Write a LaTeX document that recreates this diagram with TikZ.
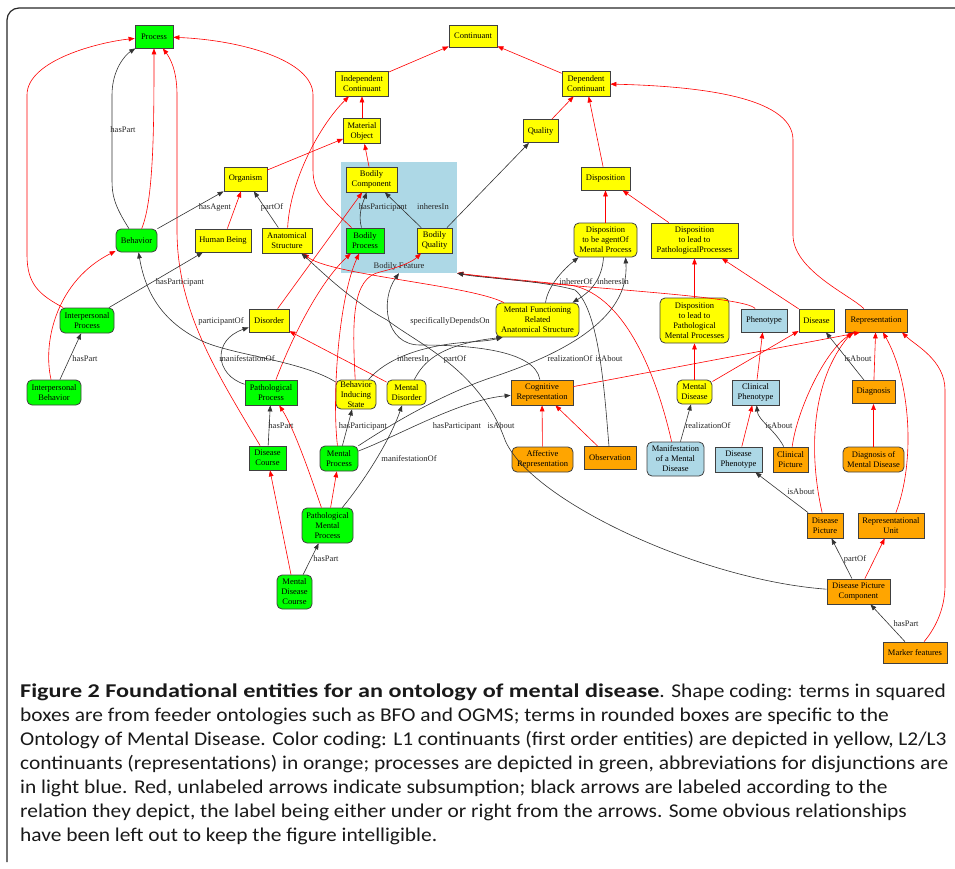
\documentclass[tikz,border=0pt]{standalone}
\usepackage{fontspec}
\setmainfont{Liberation Serif}
\newfontfamily\capfont[FakeStretch=1.098]{Carlito}
\newfontfamily\capboldfam[FakeStretch=1.24]{Carlito}
\usetikzlibrary{arrows.meta}
\definecolor{gvgreen}{RGB}{0,255,0}
\definecolor{gvorange}{RGB}{255,165,0}
\definecolor{gvblue}{RGB}{173,216,230}
\definecolor{gvyellow}{RGB}{255,255,0}
\begin{document}
\begin{tikzpicture}[x=1pt,y=-1pt,
  box/.style={draw=black!75, line width=0.8pt, inner sep=1pt, align=center, font=\fontsize{8.5}{10}\selectfont},
  sq/.style={box},
  rd/.style={box, rounded corners=5pt},
  G/.style={fill=gvgreen}, Y/.style={fill=gvyellow}, O/.style={fill=gvorange}, B/.style={fill=gvblue},
  redge/.style={draw=red, line width=0.6pt, -{Triangle[length=6pt,width=4.6pt]}},
  bedge/.style={draw=black!80, line width=0.6pt, -{Triangle[length=6pt,width=4.6pt]}},
  lbl/.style={font=\fontsize{8.5}{10}\selectfont, inner sep=0, text=black!85},
  capline/.style={anchor=west, inner sep=0, font=\capfont\fontsize{19.5}{22}\selectfont, text=black!90}
]
\useasboundingbox (0,0) rectangle (955,868);
\draw[line width=1.2pt, black!85, rounded corners=12pt] (7,862) -- (7,8) -- (955,8);

% cluster
\node[fill=gvblue, minimum width=116pt, minimum height=111pt, inner sep=0] (bf) at (399,217.5) {};
\node[lbl] (bflbl) at (399,266) {Bodily Feature};

% nodes
\node[sq,G,minimum width=38pt,minimum height=23pt] (proc) at (154,36.5) {Process};
\node[sq,Y,minimum width=48pt,minimum height=22pt] (cont) at (473,36) {Continuant};
\node[sq,Y,minimum width=53pt,minimum height=25pt] (indc) at (362,83.5) {Independent\\Continuant};
\node[sq,Y,minimum width=48pt,minimum height=25pt] (depc) at (586,83.5) {Dependent\\Continuant};
\node[sq,Y,minimum width=37pt,minimum height=25pt] (mato) at (362,131) {Material\\Object};
\node[sq,Y,minimum width=35pt,minimum height=23pt] (qual) at (540.5,131) {Quality};
\node[sq,Y,minimum width=43pt,minimum height=24pt] (org) at (245.5,179) {Organism};
\node[sq,Y,minimum width=51pt,minimum height=25pt] (bcomp) at (371.5,179.5) {Bodily\\Component};
\node[sq,Y,minimum width=49pt,minimum height=23pt] (disp) at (605.5,178.5) {Disposition};
\node[rd,G,minimum width=41pt,minimum height=23pt] (behav) at (136.5,240.5) {Behavior};
\node[sq,Y,minimum width=56pt,minimum height=23pt] (human) at (223,240.5) {Human Being};
\node[sq,Y,minimum width=50pt,minimum height=25pt] (anat) at (287,240.5) {Anatomical\\Structure};
\node[sq,G,minimum width=38pt,minimum height=25pt] (bproc) at (365,240.5) {Bodily\\Process};
\node[sq,Y,minimum width=35pt,minimum height=25pt] (bqual) at (434.5,240.5) {Bodily\\Quality};
\node[rd,Y,minimum width=63pt,minimum height=34pt] (dtba) at (605.5,240) {Disposition\\to be agentOf\\Mental Process};
\node[sq,Y,minimum width=87pt,minimum height=35pt] (dtlpp) at (694.5,240.5) {Disposition\\to lead to\\PathologicalProcesses};
\node[rd,G,minimum width=54pt,minimum height=25pt] (ip) at (87,320.5) {Interpersonal\\Process};
\node[sq,Y,minimum width=40pt,minimum height=23pt] (disord) at (269,320.5) {Disorder};
\node[rd,Y,minimum width=83pt,minimum height=34pt] (mfras) at (537.5,320) {Mental Functioning\\Related\\Anatomical Structure};
\node[rd,Y,minimum width=69pt,minimum height=45pt] (dtlpmp) at (694.5,320.5) {Disposition\\to lead to\\Pathological\\Mental Processes};
\node[sq,B,minimum width=46pt,minimum height=23pt] (phen) at (764,320.5) {Phenotype};
\node[sq,Y,minimum width=35pt,minimum height=23pt] (disease) at (816.5,320.5) {Disease};
\node[sq,O,minimum width=62pt,minimum height=23pt] (repr) at (876,320.5) {Representation};
\node[rd,G,minimum width=54pt,minimum height=25pt] (ib) at (54,392.5) {Interpersonal\\Behavior};
\node[sq,G,minimum width=52pt,minimum height=25pt] (pp) at (271,392.5) {Pathological\\Process};
\node[rd,Y,minimum width=40pt,minimum height=29pt] (bis) at (356,394.5) {Behavior\\Inducing\\State};
\node[rd,Y,minimum width=39pt,minimum height=25pt] (mdisord) at (406.5,392.5) {Mental\\Disorder};
\node[sq,O,minimum width=62pt,minimum height=25pt] (cogr) at (542,392.5) {Cognitive\\Representation};
\node[rd,Y,minimum width=35pt,minimum height=24pt] (mdisease) at (694.5,392) {Mental\\Disease};
\node[sq,B,minimum width=47pt,minimum height=25pt] (cphen) at (755.5,392.5) {Clinical\\Phenotype};
\node[sq,O,minimum width=43pt,minimum height=23pt] (diag) at (873.5,392) {Diagnosis};
\node[sq,G,minimum width=37pt,minimum height=24pt] (dcourse) at (267.5,458) {Disease\\Course};
\node[rd,G,minimum width=38pt,minimum height=25pt] (mproc) at (339,458.5) {Mental\\Process};
\node[rd,O,minimum width=61pt,minimum height=25pt] (affr) at (542.5,459.5) {Affective\\Representation};
\node[sq,O,minimum width=52pt,minimum height=23pt] (obs) at (610,458) {Observation};
\node[rd,B,minimum width=57pt,minimum height=34pt] (mmd) at (675.5,459) {Manifestation\\of a Mental\\Disease};
\node[sq,B,minimum width=47pt,minimum height=25pt] (dphen) at (738.5,459.5) {Disease\\Phenotype};
\node[sq,O,minimum width=35pt,minimum height=25pt] (cpic) at (790.5,459.5) {Clinical\\Picture};
\node[rd,O,minimum width=61pt,minimum height=25pt] (dmd) at (873.5,459.5) {Diagnosis of\\Mental Disease};
\node[rd,G,minimum width=51pt,minimum height=35pt] (pmp) at (327.5,525.5) {Pathological\\Mental\\Process};
\node[sq,O,minimum width=36pt,minimum height=25pt] (dpic) at (825,525.5) {Disease\\Picture};
\node[sq,O,minimum width=66pt,minimum height=25pt] (runit) at (891,525.5) {Representational\\Unit};
\node[rd,G,minimum width=35pt,minimum height=34pt] (mdc) at (294.5,592) {Mental\\Disease\\Course};
\node[sq,O,minimum width=63pt,minimum height=25pt] (dpc) at (858.5,591.5) {Disease Picture\\Component};
\node[sq,O,minimum width=64pt,minimum height=21pt] (marker) at (915,652.5) {Marker features};

% red subsumption edges
\draw[redge] (behav) .. controls (154,200) and (154,120) .. (proc);
\draw[redge] (ip) .. controls (40,295) and (27,285) .. (27,255) -- (27,95) .. controls (27,60) and (100,42) .. (proc);
\draw[redge] (ib) .. controls (42,340) and (58,280) .. (behav);
\draw[redge] (dcourse) .. controls (215,370) and (177,310) .. (177,230) -- (177,95) .. controls (177,70) and (170,58) .. (proc);
\draw[redge] (bproc) .. controls (328,205) and (313,195) .. (313,170) -- (313,95) .. controls (313,60) and (240,40) .. (proc);
\draw[redge] (human) -- (org);
\draw[redge] (anat) .. controls (290,180) and (320,125) .. (indc);
\draw[redge] (org) -- (mato);
\draw[redge] (bcomp) -- (mato);
\draw[redge] (mato) -- (indc);
\draw[redge] (indc) -- (cont);
\draw[redge] (depc) -- (cont);
\draw[redge] (qual) -- (depc);
\draw[redge] (disp) -- (depc);
\draw[redge] (dtba) -- (disp);
\draw[redge] (dtlpp) -- (disp);
\draw[redge] (dtlpmp) -- (dtlpp);
\draw[redge] (disease) -- (dtlpp);
\draw[redge] (repr) .. controls (850,295) and (793,270) .. (793,235) -- (793,140) .. controls (793,95) and (690,86) .. (depc);
\draw[redge] (mdisease) -- (dtlpmp);
\draw[redge] (mdisease) -- (disease);
\draw[redge] (cphen) -- (phen);
\draw[redge] (dphen) -- (cphen);
\draw[redge] (cpic) .. controls (797,410) and (825,350) .. ([xshift=-22pt]repr.south);
\draw[redge] (diag) -- (repr);
\draw[redge] (dmd) -- (diag);
\draw[redge] (dpic) .. controls (808,450) and (812,380) .. ([xshift=-24pt]repr.south);
\draw[redge] (runit) .. controls (916,460) and (910,380) .. ([xshift=7pt]repr.south);
\draw[redge] (marker) .. controls (938,625) and (945,605) .. (945,585) -- (945,390) .. controls (945,360) and (915,345) .. ([xshift=26pt]repr.south);
\draw[redge] (dpc) -- (runit);
\draw[redge] (cogr) -- ([xshift=-16pt]repr.south);
\draw[redge] (affr) -- (cogr);
\draw[redge] (obs) -- (cogr);
\draw[redge] (pmp) -- (mproc);
\draw[redge] (pmp) .. controls (312,480) and (295,430) .. (pp);
\draw[redge] (mdc) -- (dcourse);
\draw[redge] (mdisord) -- (disord);
\draw[redge] (disord) -- (bcomp);
\draw[redge] (pp) .. controls (295,330) and (322,280) .. (bproc);
\draw[redge] (mproc) .. controls (332,400) and (338,300) .. (bproc);
\draw[redge] (bis) .. controls (352,320) and (352,278) .. (380,272) .. controls (400,267) and (412,262) .. (bqual);
\draw[redge] (mfras) .. controls (470,285) and (330,275) .. (anat);
\draw[redge] (phen) .. controls (745,295) and (560,288) .. (bf.south east);
\draw[redge] (mmd) .. controls (660,390) and (630,295) .. (570,285) .. controls (520,280) and (480,276) .. (bf.south east);

% black relation edges
\draw[bedge] (behav) .. controls (114,205) and (112,195) .. (112,180) -- (112,95) .. controls (112,70) and (125,55) .. (proc);
\draw[bedge] (behav) -- (org);
\draw[bedge] (anat) -- (org);
\draw[bedge] (ip) -- (human);
\draw[bedge] (ib) -- (ip);
\draw[bedge] (bproc) .. controls (358,215) and (362,205) .. (bcomp);
\draw[bedge] (bqual) -- (bcomp);
\draw[bedge] (bqual) -- (qual);
\draw[bedge] (pp) .. controls (215,375) and (212,340) .. (disord);
\draw[bedge] (bis) .. controls (300,360) and (230,355) .. (200,340) .. controls (160,320) and (145,290) .. (behav);
\draw[bedge] (dcourse) -- (pp);
\draw[bedge] (mproc) -- (bis);
\draw[bedge] (pmp) .. controls (365,480) and (390,440) .. (mdisord);
\draw[bedge] (mproc) .. controls (400,435) and (460,400) .. (cogr);
\draw[bedge] (mdc) -- (pmp);
\draw[bedge] (mmd) -- (mdisease);
\draw[bedge] (cpic) .. controls (775,430) and (758,420) .. (cphen);
\draw[bedge] (diag) -- (disease);
\draw[bedge] (dpic) -- (dphen);
\draw[bedge] (dpc) -- (dpic);
\draw[bedge] (marker) -- (dpc);
\draw[bedge] ([xshift=8pt]mfras.north) .. controls (548,285) and (565,268) .. ([xshift=-27pt]dtba.south);
\draw[bedge] ([xshift=-2pt]dtba.south) .. controls (602,280) and (590,292) .. ([xshift=35pt]mfras.north);
\draw[bedge] (mproc) .. controls (390,425) and (440,395) .. (490,378) .. controls (560,355) and (630,320) .. ([xshift=20pt]dtba.south);
\draw[bedge] (obs) .. controls (605,400) and (600,310) .. (575,290) .. controls (540,280) and (480,278) .. (bf.south east);
\draw[bedge] (dpc) .. controls (700,580) and (530,500) .. (505,440) .. controls (480,370) and (420,345) .. (387,320) .. controls (350,300) and (320,270) .. (anat);
\draw[bedge] (bis) .. controls (385,360) and (420,345) .. (470,342) .. controls (485,341) and (492,340) .. ([xshift=-35pt]mfras.south);
\draw[bedge] (mdisord) .. controls (420,370) and (430,345) .. ([xshift=-35pt]mfras.south);
\draw[bedge] (cogr) .. controls (535,350) and (470,345) .. (420,345) .. controls (385,345) and (380,300) .. (bf.south);

% edge labels
\node[lbl] (l1) at (123,130) {hasPart};
\node[lbl] (l2) at (215,207) {hasAgent};
\node[lbl] (l3) at (272,207) {partOf};
\node[lbl] (l4) at (383,207) {hasParticipant};
\node[lbl] (l5) at (433,207) {inheresIn};
\node[lbl] (l6) at (180,282) {hasParticipant};
\node[lbl] (l7) at (576,282) {inhererOf};
\node[lbl] (l8) at (613,282) {inheresIn};
\node[lbl] (l9) at (221,321) {participantOf};
\node[lbl] (l10) at (450,321) {specificallyDependsOn};
\node[lbl] (l11) at (85,359) {hasPart};
\node[lbl] (l12) at (247,359) {manifestationOf};
\node[lbl] (l13) at (413,359) {inheresIn};
\node[lbl] (l14) at (455,359) {partOf};
\node[lbl] (l15) at (570,359) {realizationOf};
\node[lbl] (l16) at (609,359) {isAbout};
\node[lbl] (l17) at (858,359) {isAbout};
\node[lbl] (l18) at (281,426) {hasPart};
\node[lbl] (l19) at (363,426) {hasParticipant};
\node[lbl] (l20) at (457,426) {hasParticipant};
\node[lbl] (l21) at (501,426) {isAbout};
\node[lbl] (l22) at (708,426) {realizationOf};
\node[lbl] (l23) at (779,426) {isAbout};
\node[lbl] (l24) at (409,459) {manifestationOf};
\node[lbl] (l25) at (801,492) {isAbout};
\node[lbl] (l26) at (326,559) {hasPart};
\node[lbl] (l27) at (855,559) {partOf};
\node[lbl] (l28) at (906,624) {hasPart};

% caption
\node[capline] (c1) at (20,692) {{\capboldfam\bfseries Figure 2 Foundational entities for an ontology of mental disease}. Shape coding: terms in squared};
\node[capline] (c2) at (20,716) {boxes are from feeder ontologies such as BFO and OGMS; terms in rounded boxes are specific to the};
\node[capline] (c3) at (20,740) {Ontology of Mental Disease. Color coding: L1 continuants (first order entities) are depicted in yellow, L2/L3};
\node[capline] (c4) at (20,764) {continuants (representations) in orange; processes are depicted in green, abbreviations for disjunctions are};
\node[capline] (c5) at (20,788) {in light blue. Red, unlabeled arrows indicate subsumption; black arrows are labeled according to the};
\node[capline] (c6) at (20,812) {relation they depict, the label being either under or right from the arrows. Some obvious relationships};
\node[capline] (c7) at (20,836) {have been left out to keep the figure intelligible.};
\end{tikzpicture}
\end{document}
